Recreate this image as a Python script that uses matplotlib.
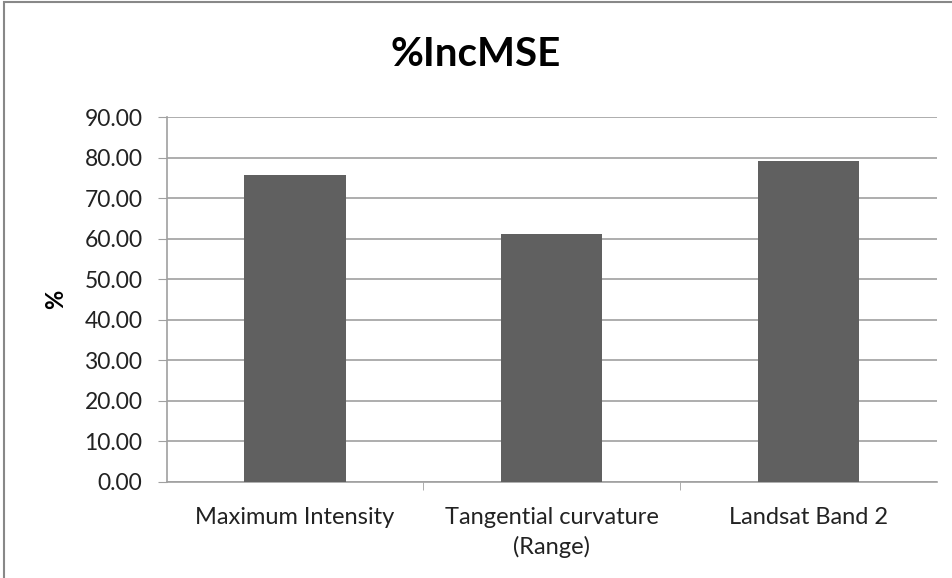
import matplotlib
matplotlib.use("Agg")
import matplotlib.pyplot as plt
from matplotlib.patches import Rectangle

categories = ["Maximum Intensity", "Tangential curvature\n(Range)", "Landsat Band 2"]
inc_mse = [75.65, 61.3, 79.2]
y_ticks = [0, 10, 20, 30, 40, 50, 60, 70, 80, 90]

plt.rcParams["font.family"] = ["Lato", "DejaVu Sans"]

fig = plt.figure(figsize=(9.52, 5.78), dpi=100)
ax = fig.add_axes([166.7 / 952, 1 - 481.7 / 578, 770 / 952, 364.4 / 578])

x = range(len(categories))
ax.bar(x, inc_mse, width=0.395, color="#606060", zorder=3)

ax.set_xlim(-0.5, len(categories) - 0.5)
ax.set_ylim(0, 90)
ax.set_yticks(y_ticks)
ax.set_yticklabels([f"{v:.2f}" for v in y_ticks], fontsize=16.5, color="#222222")
ax.set_xticks([0.5, 1.5], minor=True)
ax.set_xticks(list(x))
ax.set_xticklabels(categories, fontsize=17, linespacing=1.45, color="#222222")
ax.tick_params(axis="x", which="major", length=0, pad=18)
ax.tick_params(axis="x", which="minor", length=6, color="#a0a0a0", direction="out")
ax.tick_params(axis="y", length=6.5, color="#a0a0a0", pad=11)
ax.grid(axis="y", color="#a0a0a0", linewidth=1.2, zorder=0)

for side in ["top", "right"]:
    ax.spines[side].set_visible(False)
for side in ["left", "bottom"]:
    ax.spines[side].set_color("#a0a0a0")
    ax.spines[side].set_linewidth(1.2)

ax.set_ylabel("%", fontsize=17, fontweight="bold", labelpad=12)
fig.text(0.5, 1 - 55 / 578, "%IncMSE", ha="center", va="center",
         fontsize=29, fontweight="bold")

# chart area border
fig.patches.append(Rectangle((4 / 952, -0.05), 1.1, 1.05 - 1.5 / 578,
                             transform=fig.transFigure, fill=False,
                             edgecolor="#888888", linewidth=1.5))

fig.savefig("out.png", dpi=100)
